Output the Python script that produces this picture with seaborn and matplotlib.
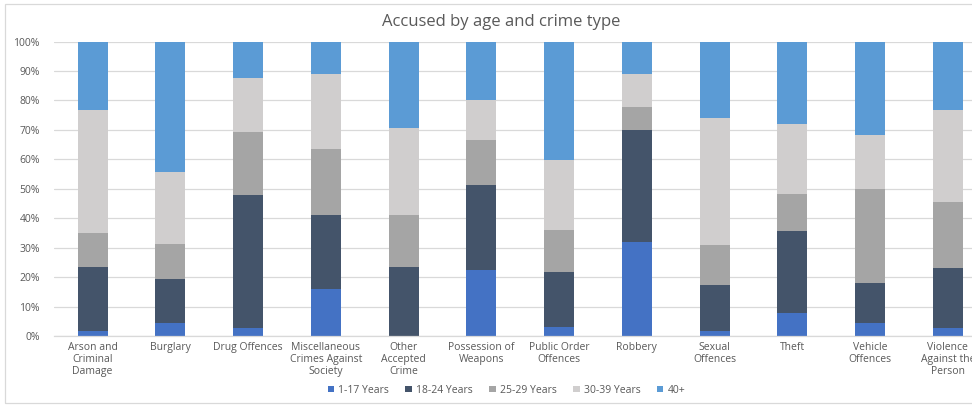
import matplotlib
matplotlib.use("Agg")
import matplotlib.pyplot as plt
from matplotlib.patches import Patch, Rectangle
import numpy as np
import pandas as pd
import seaborn as sns

# Crime categories (x-axis labels, wrapped as shown)
categories = [
    "Arson and\nCriminal\nDamage",
    "Burglary",
    "Drug Offences",
    "Miscellaneous\nCrimes Against\nSociety",
    "Other\nAccepted\nCrime",
    "Possession of\nWeapons",
    "Public Order\nOffences",
    "Robbery",
    "Sexual\nOffences",
    "Theft",
    "Vehicle\nOffences",
    "Violence\nAgainst the\nPerson",
]

# Share of accused (%) in each age band, per category
age_1_17 = [1.6, 4.4, 2.7, 15.9, 0.0, 22.3, 3.1, 31.9, 1.7, 7.8, 4.4, 2.6]
age_18_24 = [21.8, 15.0, 45.1, 25.3, 23.4, 29.1, 18.6, 37.9, 15.5, 27.8, 13.7, 20.4]
age_25_29 = [11.6, 11.8, 21.6, 22.3, 17.8, 15.0, 14.4, 7.8, 13.8, 12.6, 31.9, 22.4]
age_30_39 = [41.6, 24.5, 18.2, 25.6, 29.4, 13.9, 23.5, 11.5, 43.1, 23.7, 18.1, 31.2]
age_40_plus = [23.4, 44.3, 12.4, 10.9, 29.4, 19.7, 40.4, 10.9, 25.9, 28.1, 31.9, 23.4]

series_names = ["1-17 Years", "18-24 Years", "25-29 Years", "30-39 Years", "40+"]
series_values = [age_1_17, age_18_24, age_25_29, age_30_39, age_40_plus]
colors = ["#4472C4", "#44546A", "#A5A5A5", "#D0CECE", "#5B9BD5"]

# Long table with cumulative tops for the stacked layout
records = []
for name, vals in zip(series_names, series_values):
    for cat, v in zip(categories, vals):
        records.append({"category": cat, "series": name, "value": v})
df = pd.DataFrame(records)
df["series"] = pd.Categorical(df["series"], categories=series_names, ordered=True)
df["category"] = pd.Categorical(df["category"], categories=categories, ordered=True)
df = df.sort_values(["category", "series"])
df["top"] = df.groupby("category", observed=True)["value"].cumsum() / 100.0

sns.set_theme(style="white")
plt.rcParams["font.family"] = ["Open Sans", "DejaVu Sans"]

fig = plt.figure(figsize=(9.72, 4.05), dpi=100)
ax = fig.add_axes([0.0553, 0.1704, 1.0 - 0.0553, 0.7271])

# Draw tallest cumulative layer first so each shorter layer sits on top
for name, color in reversed(list(zip(series_names, colors))):
    sub = df[df["series"] == name]
    sns.barplot(data=sub, x="category", y="top", color=color, width=0.386,
                order=categories, ax=ax, saturation=1, edgecolor="none",
                linewidth=0, errorbar=None)

ax.set_xlim(-0.5, 11.31)
ax.set_ylim(0, 1.0)
ax.set_yticks(np.arange(0, 1.01, 0.1))
ax.set_yticklabels([f"{int(round(t * 100))}%" for t in np.arange(0, 1.01, 0.1)])
ax.set_xlabel("")
ax.set_ylabel("")
ax.yaxis.grid(True, color="#D9D9D9", linewidth=0.9)
ax.set_axisbelow(True)
for s in ["top", "right", "left"]:
    ax.spines[s].set_visible(False)
ax.spines["bottom"].set_color("#D9D9D9")
ax.spines["bottom"].set_linewidth(0.9)
ax.tick_params(axis="both", length=0, colors="#595959", labelsize=7.5)
ax.tick_params(axis="y", pad=10)
ax.tick_params(axis="x", pad=4)
for lbl in ax.get_xticklabels():
    lbl.set_linespacing(1.15)

fig.text(0.516, 0.946, "Accused by age and crime type", ha="center", va="center",
         fontsize=12, color="#595959")

handles = [Patch(facecolor=c, edgecolor="none") for c in colors]
fig.legend(handles, series_names, loc="center", bbox_to_anchor=(0.521, 0.037),
           ncol=5, frameon=False, fontsize=7.5, handlelength=0.6,
           handleheight=0.6, handletextpad=0.4, columnspacing=1.6,
           labelcolor="#595959")

# Chart area border
fig.patches.append(Rectangle((5 / 972, 2 / 405), 1.2, 1 - 6 / 405,
                             transform=fig.transFigure, fill=False,
                             edgecolor="#D9D9D9", linewidth=0.9))

fig.savefig("out.png", dpi=100)
